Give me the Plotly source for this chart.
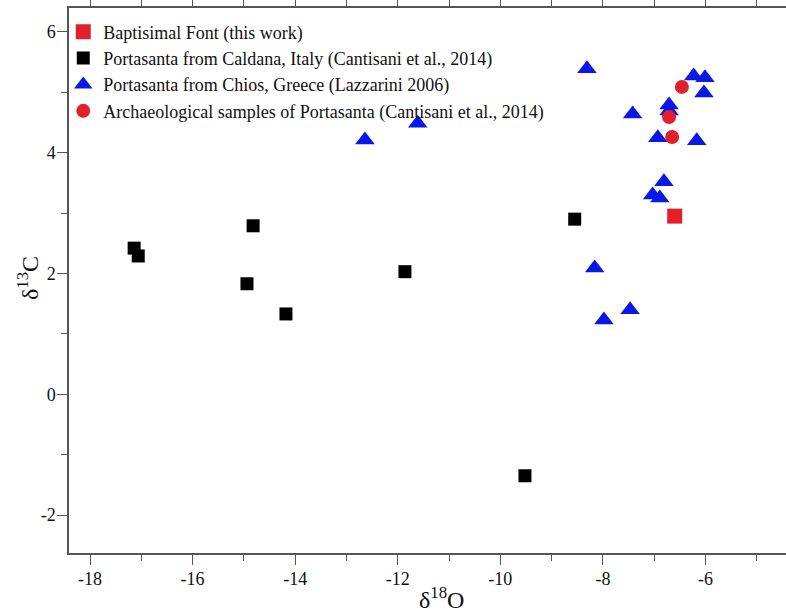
import plotly.graph_objects as go

# Data
font_x = [-6.60]
font_y = [2.95]

caldana_x = [-17.14, -17.06, -14.82, -14.94, -14.18, -11.86, -8.55, -9.52]
caldana_y = [2.42, 2.29, 2.79, 1.83, 1.33, 2.03, 2.90, -1.35]

chios_x = [-12.64, -11.61, -8.31, -7.42, -6.23, -6.01, -6.03, -6.17, -6.71,
           -6.71, -6.93, -6.81, -7.03, -6.89, -8.16, -7.47, -7.98]
chios_y = [4.21, 4.49, 5.39, 4.64, 5.27, 5.24, 4.99, 4.20, 4.79,
           4.69, 4.25, 3.52, 3.30, 3.25, 2.09, 1.40, 1.23]

arch_x = [-6.46, -6.71, -6.65]
arch_y = [5.09, 4.59, 4.26]

x_ticks = [-18, -16, -14, -12, -10, -8, -6]
y_ticks = [-2, 0, 2, 4, 6]

SERIF = "Liberation Serif, Times New Roman, serif"

fig = go.Figure()
fig.add_trace(go.Scatter(x=font_x, y=font_y, mode="markers",
                         name="Baptisimal Font (this work)",
                         marker=dict(symbol="square", size=15, color="#e0202a")))
fig.add_trace(go.Scatter(x=caldana_x, y=caldana_y, mode="markers",
                         name="Portasanta from Caldana, Italy (Cantisani et al., 2014)",
                         marker=dict(symbol="square", size=13, color="black")))
fig.add_trace(go.Scatter(x=chios_x, y=chios_y, mode="markers",
                         name="Portasanta from Chios, Greece (Lazzarini 2006)",
                         marker=dict(symbol="triangle-up", size=17, color="#0a18e6")))
fig.add_trace(go.Scatter(x=arch_x, y=arch_y, mode="markers",
                         name="Archaeological samples of Portasanta (Cantisani et al., 2014)",
                         marker=dict(symbol="circle", size=14, color="#e0202a")))

fig.update_layout(
    width=786, height=615,
    margin=dict(l=69, r=0, t=8, b=62, autoexpand=False),
    paper_bgcolor="white", plot_bgcolor="white",
    font=dict(family=SERIF, color="#111111"),
    showlegend=True,
    legend=dict(x=-0.008, y=0.99, xanchor="left", yanchor="top",
                bgcolor="rgba(0,0,0,0)", font=dict(size=18, family=SERIF),
                itemwidth=30, tracegroupgap=0),
    annotations=[
        dict(text="δ<sup>18</sup>O", xref="paper", yref="paper",
             x=(441 - 69) / 717, y=(553 - 598) / 545, xanchor="center", yanchor="middle",
             showarrow=False, font=dict(size=24, family=SERIF)),
        dict(text="δ<sup>13</sup>C", xref="paper", yref="paper",
             x=(28 - 69) / 717, y=(553 - 278) / 545, xanchor="center", yanchor="middle",
             textangle=-90, showarrow=False, font=dict(size=24, family=SERIF)),
    ],
)
fig.update_xaxes(
    range=[-18.41, -4.43], tickvals=x_ticks, ticktext=[str(v) for v in x_ticks],
    automargin=False,
    showgrid=False, zeroline=False, showline=True, linecolor="#555555", linewidth=1.5,
    mirror="ticks", ticks="outside", ticklen=10, tickcolor="#555555", tickwidth=1.2,
    tickfont=dict(size=18, family=SERIF), ticklabelstandoff=-1,
    minor=dict(dtick=1, tick0=-19, ticks="outside", ticklen=6, tickcolor="#555555", tickwidth=1.2),
)
fig.update_yaxes(
    range=[-2.629, 6.397], tickvals=y_ticks, ticktext=[str(v) for v in y_ticks],
    automargin=False,
    showgrid=False, zeroline=False, showline=True, linecolor="#555555", linewidth=1.5,
    ticks="outside", ticklen=10, tickcolor="#555555", tickwidth=1.2,
    tickfont=dict(size=18, family=SERIF), ticklabelstandoff=-2,
    minor=dict(dtick=1, tick0=-3, ticks="outside", ticklen=6, tickcolor="#555555", tickwidth=1.2),
)

fig.write_html(
    "out.html",
    config={"displayModeBar": False},
    post_script="document.body.style.margin='0';document.body.style.overflow='hidden';",
)
